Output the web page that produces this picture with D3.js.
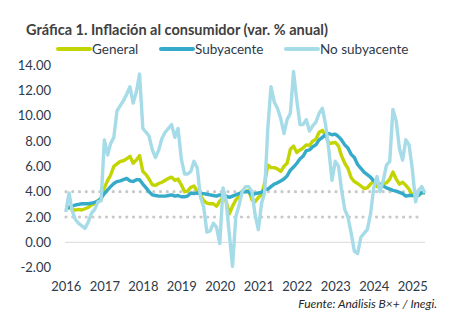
<!DOCTYPE html>
<html>
<head>
<meta charset="utf-8">
<script src="https://cdn.jsdelivr.net/npm/d3@7"></script>
<style>
  body { margin: 0; background: #fff; }
  svg text { font-family: Lato, "Open Sans", sans-serif; }
</style>
</head>
<body>
<div class="chart"></div>
<script>
// Monthly series, Jan 2016 onwards (annual % change)
var startYear = 2016;
var years = [2016, 2017, 2018, 2019, 2020, 2021, 2022, 2023, 2024, 2025];
var yTicks = [-2, 0, 2, 4, 6, 8, 10, 12, 14];
var targetLines = [2, 4];

var general = [
  2.6, 2.8, 2.6, 2.55, 2.6, 2.55, 2.65, 2.75, 2.95, 3.05, 3.3, 3.35,
  4.3, 4.9, 5.3, 6.0, 6.2, 6.4, 6.45, 6.6, 6.8, 6.25, 6.5, 6.85,
  5.6, 5.35, 5.0, 4.55, 4.5, 4.65, 4.75, 4.9, 5.05, 5.15, 4.9, 5.0,
  4.55, 4.0, 4.05, 4.35, 4.45, 4.05, 3.75, 3.3, 3.1, 3.05, 3.05, 2.85,
  3.25, 3.6, 3.25, 2.25, 2.85, 3.35, 3.6, 4.05, 4.0, 4.1, 3.35, 3.2,
  3.55, 3.75, 4.65, 6.1, 5.9, 5.9, 5.8, 5.6, 6.0, 6.25, 7.35, 7.6,
  7.1, 7.3, 7.45, 7.7, 7.65, 8.0, 8.15, 8.7, 8.85, 8.45, 7.8, 7.85,
  7.9, 7.6, 6.85, 6.25, 5.85, 5.1, 4.8, 4.65, 4.45, 4.25, 4.3, 4.6,
  4.85, 4.4, 4.4, 4.65, 4.7, 5.0, 5.55, 5.0, 4.6, 4.75, 4.5, 4.2,
  3.7, 3.75, 3.8, 3.9, 3.95
];

var subyacente = [
  2.7, 2.75, 2.85, 2.95, 3.0, 3.05, 3.05, 3.05, 3.1, 3.15, 3.25, 3.5,
  3.85, 4.15, 4.4, 4.65, 4.8, 4.85, 4.95, 5.05, 4.85, 4.8, 4.95, 4.95,
  4.6, 4.3, 4.0, 3.75, 3.7, 3.65, 3.65, 3.65, 3.7, 3.75, 3.65, 3.7,
  3.6, 3.6, 3.65, 3.9, 3.85, 3.9, 3.85, 3.85, 3.8, 3.75, 3.7, 3.65,
  3.75, 3.7, 3.65, 3.55, 3.65, 3.75, 3.85, 3.95, 4.0, 4.0, 3.7, 3.85,
  3.9, 3.95, 4.15, 4.2, 4.4, 4.6, 4.7, 4.85, 5.0, 5.25, 5.7, 5.95,
  6.25, 6.6, 6.8, 7.25, 7.3, 7.55, 7.7, 8.1, 8.3, 8.5, 8.6, 8.5,
  8.55, 8.35, 8.1, 7.7, 7.45, 6.95, 6.7, 6.15, 5.85, 5.55, 5.35, 5.15,
  4.85, 4.7, 4.6, 4.45, 4.3, 4.2, 4.1, 4.05, 3.95, 3.85, 3.65, 3.7,
  3.7, 3.7, 3.7, 3.95, 3.9
];

var noSubyacente = [
  2.4, 3.9, 2.5, 1.8, 1.5, 1.3, 1.1, 1.6, 2.3, 2.6, 3.2, 3.3,
  8.1, 6.9, 7.8, 8.3, 10.4, 10.8, 11.2, 11.7, 12.3, 11.0, 11.9, 13.3,
  9.0, 8.7, 8.4, 7.3, 6.7, 7.3, 8.2, 8.7, 9.0, 9.3, 8.3, 9.0,
  6.6, 5.4, 5.4, 5.6, 6.4, 5.9, 3.6, 2.8, 0.8, 0.9, 1.5, 1.2,
  -0.1, 4.3, 3.3, 0.6, -1.9, 2.0, 2.9, 4.0, 4.4, 4.4, 4.0, 2.2,
  1.0, 3.1, 3.9, 9.0, 12.3, 11.1, 10.6, 9.8, 8.6, 9.7, 10.2, 13.5,
  11.2, 9.3, 9.3, 9.7, 8.8, 9.2, 9.5, 10.2, 10.6, 9.3, 7.3, 4.9,
  6.4, 6.0, 4.2, 2.6, 2.0, 0.7, -0.7, -0.9, 0.4, 0.7, 1.0, 2.2,
  4.3, 5.2, 4.0, 4.9, 6.1, 6.4, 10.5, 9.6, 7.4, 6.5, 8.1, 7.7,
  5.8, 3.2, 4.1, 4.4, 3.9
];

var seriesNames = ["General", "Subyacente", "No subyacente"];
var seriesColors = ["#c3d500", "#35abc9", "#a6dbe8"];

var w = 453;
var h = 334;

var svg = d3.select(".chart")
  .append("svg")
  .attr("width", w)
  .attr("height", h);

// Scales
var x = d3.scaleTime()
  .domain([new Date(startYear, 0, 1), new Date(2025, 0, 1)])
  .range([65.8, 412.3]);

var y = d3.scaleLinear()
  .domain([-2, 14])
  .range([267.6, 65.2]);

var monthDate = i => new Date(startYear, i, 1);

// Title
svg.append("text")
  .attr("x", 26)
  .attr("y", 35)
  .attr("font-size", 14.5)
  .attr("font-weight", "bold")
  .attr("fill", "#404040")
  .text("Gráfica 1. Inflación al consumidor (var. % anual)");

// Legend
var legendX = [57, 160, 285];
seriesNames.forEach((name, i) => {
  var g = svg.append("g").attr("transform", "translate(" + legendX[i] + ",49)");
  g.append("line")
    .attr("x1", 1).attr("x2", 33)
    .attr("y1", 0).attr("y2", 0)
    .attr("stroke", seriesColors[i])
    .attr("stroke-width", 4)
    .attr("stroke-linecap", "round");
  g.append("text")
    .attr("x", 35)
    .attr("y", 4.5)
    .attr("font-size", 13.5)
    .attr("fill", "#2d3a4a")
    .text(name);
});

// Y axis labels
var yAxis = d3.axisLeft(y)
  .tickValues(yTicks)
  .tickSize(0)
  .tickPadding(14)
  .tickFormat(d => d.toFixed(2));
svg.append("g")
  .attr("transform", "translate(65,0)")
  .call(yAxis)
  .call(g => g.select(".domain").remove())
  .selectAll("text")
  .attr("font-size", 13)
  .attr("font-family", "Lato, sans-serif")
  .attr("fill", "#2d3a4a");

// X axis labels
var xAxis = d3.axisBottom(x)
  .tickValues(years.map(d => new Date(d, 0, 1)))
  .tickSize(0)
  .tickPadding(0)
  .tickFormat(d3.timeFormat("%Y"));
svg.append("g")
  .attr("transform", "translate(0,281.5)")
  .call(xAxis)
  .call(g => g.select(".domain").remove())
  .selectAll("text")
  .attr("font-size", 13)
  .attr("font-family", "Lato, sans-serif")
  .attr("fill", "#2d3a4a");

// Zero line
svg.append("line")
  .attr("x1", 65).attr("x2", 425)
  .attr("y1", y(0)).attr("y2", y(0))
  .attr("stroke", "#d9d9d9")
  .attr("stroke-width", 1);

// Dotted reference band (2% and 4%)
svg.selectAll(".target")
  .data(targetLines)
  .enter()
  .append("line")
  .attr("class", "target")
  .attr("x1", 66).attr("x2", 418)
  .attr("y1", d => y(d)).attr("y2", d => y(d))
  .attr("stroke", "#c9c9c9")
  .attr("stroke-width", 3.2)
  .attr("stroke-linecap", "round")
  .attr("stroke-dasharray", "0 6.75");

// Series lines
var line = d3.line()
  .x((d, i) => x(monthDate(i)))
  .y(d => y(d));

[general, subyacente, noSubyacente].forEach((s, i) => {
  svg.append("path")
    .datum(s)
    .attr("fill", "none")
    .attr("stroke", seriesColors[i])
    .attr("stroke-width", 3.4)
    .attr("stroke-linejoin", "round")
    .attr("d", line);
});

// Source
svg.append("text")
  .attr("x", 437)
  .attr("y", 307.5)
  .attr("text-anchor", "end")
  .attr("font-size", 12)
  .attr("font-style", "italic")
  .attr("fill", "#262626")
  .text("Fuente: Análisis B×+ /  Inegi.");
</script>
</body>
</html>
